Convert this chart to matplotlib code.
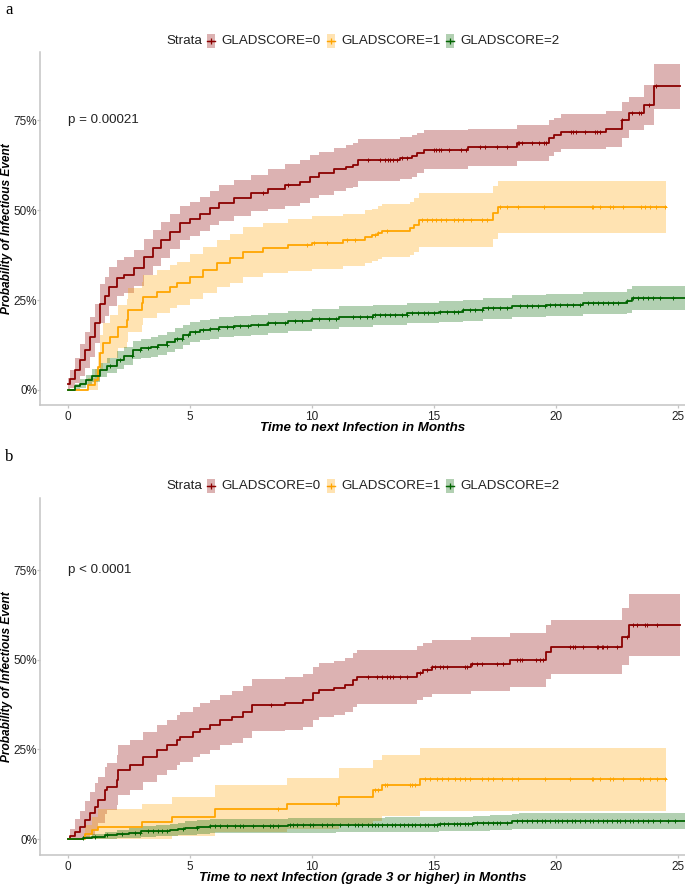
import numpy as np
import matplotlib
matplotlib.use('Agg')
import matplotlib.pyplot as plt
from matplotlib.patches import Rectangle
from matplotlib.lines import Line2D

plt.rcParams['font.family'] = ['Liberation Sans', 'DejaVu Sans']

labels = ['GLADSCORE=0', 'GLADSCORE=1', 'GLADSCORE=2']
line_colors = ['#8B0000', '#FFA500', '#006400']
yticks = [0, 0.25, 0.5, 0.75]
ytick_labels = ['0%', '25%', '50%', '75%']
xticks = [0, 5, 10, 15, 20, 25]

# ---- panel a: any infection (cumulative incidence in %, CI half width in %) ----
a0_t = [0, 0.1, 0.3, 0.5, 0.7, 0.9, 1.1, 1.3, 1.5, 1.7, 2.0, 2.3, 2.7, 3.1, 3.5, 3.8, 4.2, 4.6,
        5.0, 5.4, 5.8, 6.2, 6.8, 7.5, 8.2, 8.9, 9.5, 9.9, 10.3, 10.9, 11.4, 11.7, 11.9, 13.6,
        14.1, 14.3, 14.6, 16.4, 18.4, 19.7, 19.9, 20.2, 22.05, 22.7, 23.0, 23.6, 24.0]
a0_p = [1.8, 3, 5.5, 8.3, 11, 14.8, 18.5, 24, 26, 28.7, 31, 32, 33.8, 37, 39.5, 41.7, 44, 46.3,
        47.5, 49, 50.5, 51.9, 53.3, 54.6, 55.8, 57, 57.9, 59.3, 60.2, 61.3, 62, 62.5, 63.9, 64.4,
        65, 65.9, 66.8, 67.4, 68.5, 69.9, 70.8, 71.8, 72.5, 75, 76.9, 79.2, 84.4]
a0_ci = [1.5, 2.5, 3.5, 4.5, 5, 5.5, 5.5, 5.5, 5.5, 5.5, 5, 5, 5, 5, 5, 5, 4.8, 4.7,
         4.7, 4.7, 4.8, 5, 5, 5, 5.5, 5.8, 6, 6, 6, 6, 6, 6, 5.8, 5.8,
         5.8, 5.6, 5.5, 5.2, 5, 5, 4.8, 4.8, 5, 5, 4.6, 5.5, 6.3]
a0_end = 25.1
a0_cens = [8.0, 9.0, 12.3, 12.8, 13.0, 13.1, 13.2, 13.3, 13.5, 13.7, 13.9, 15.0, 15.1, 15.2,
           15.3, 15.6, 16.1, 16.3, 16.9, 17.1, 17.6, 18.0, 18.45, 18.5, 18.6, 19.0, 19.3, 19.5,
           19.6, 20.6, 20.7, 20.8, 21.2, 21.6, 21.7, 21.8, 22.7, 23.1, 23.4, 23.5, 23.8, 24.1]

a1_t = [0, 0.8, 1.1, 1.24, 1.31, 1.45, 1.72, 2.06, 2.4, 2.47, 3.02, 3.09, 3.63, 4.18, 4.45,
        5.0, 5.55, 6.09, 6.64, 7.18, 8.0, 9.0, 10.0, 11.28, 12.17, 12.45, 12.7, 12.86, 14.0,
        14.2, 14.4, 17.43, 17.64]
a1_p = [0, 1.4, 2.8, 6.5, 10.2, 13, 14.8, 17.6, 19.4, 22.2, 24.1, 25.9, 27.3, 28.7, 29.6,
        31.5, 33.3, 35.2, 36.6, 38.4, 39.4, 40.2, 40.9, 41.7, 42.6, 43.1, 43.7, 44.3, 44.9,
        45.8, 47.2, 49.3, 50.9]
a1_ci = [0, 2, 3, 4, 5, 5.5, 6, 6, 6, 6, 6, 6, 6, 6, 6, 6.2, 6.4, 6.6, 6.8, 7, 7, 7.2, 7.3,
         7.3, 7.3, 7.3, 7.4, 7.4, 7.4, 7.5, 7.5, 7.3, 7.3]
a1_end = 24.5
a1_cens = [9.8, 10.1, 10.6, 11.42, 11.76, 12.58, 12.72, 13.06, 14.5, 14.7, 14.9, 15.1, 15.3,
           15.5, 15.8, 16.0, 16.2, 16.5, 16.95, 17.16, 17.7, 18.0, 18.45, 19.5, 21.46, 21.5,
           21.8, 22.2, 22.35, 22.76, 23.5, 23.65, 23.85, 24.1, 24.47]

a2_t = [0, 0.3, 0.5, 0.75, 1.0, 1.3, 1.6, 2.0, 2.3, 2.66, 3.0, 3.4, 3.7, 4.05, 4.4, 4.7, 5.0,
        5.4, 5.8, 6.2, 6.8, 7.5, 8.2, 9.0, 10.0, 11.1, 12.5, 13.9, 15.2, 16.2, 17.0, 18.2,
        19.6, 21.1, 22.9, 23.1]
a2_p = [0, 1, 1.8, 2.8, 4, 5.6, 6.8, 8.3, 9.5, 11.1, 11.6, 12, 12.6, 13.4, 14.3, 15.3, 16,
        16.7, 17, 17.4, 17.8, 18.1, 18.7, 19.2, 19.8, 20.4, 20.8, 21.3, 21.8, 22.2, 22.7, 23.3,
        23.6, 24.1, 24.8, 25.6]
a2_ci = [0, 0.8, 1.2, 1.5, 1.8, 2.0, 2.2, 2.4, 2.5, 2.6, 2.7, 2.7, 2.8, 2.8, 2.8, 2.8, 2.8,
         2.8, 2.8, 2.8, 2.8, 2.8, 2.8, 2.8, 2.8, 2.8, 2.8, 2.8, 2.9, 2.9, 2.9, 3.0, 3.0, 3.1,
         3.3, 3.4]
a2_end = 25.3
a2_cens = [1.72, 2.13, 2.61, 2.95, 3.29, 3.63, 4.04, 4.45, 4.66, 4.93, 5.2, 5.55, 5.82, 6.16,
           6.5, 6.78, 7.05, 7.39, 7.8, 8.2, 8.5, 8.9, 9.3, 9.6, 10.0, 10.3, 10.7, 11.0, 11.7,
           11.97, 12.24, 12.45, 12.58, 12.79, 12.99, 13.2, 13.4, 13.68, 13.88, 14.09, 14.36,
           14.57, 14.77, 14.98, 15.25, 15.52, 15.8, 16.0, 16.2, 16.48, 16.68, 16.96, 17.23,
           17.43, 17.71, 17.98, 18.53, 18.8, 19.0, 19.28, 19.55, 19.76, 19.96, 20.17, 20.44,
           20.71, 20.99, 21.33, 21.53, 21.74, 21.94, 22.15, 22.35, 22.56, 22.9, 23.17, 23.38,
           23.58, 23.79, 23.99, 24.26, 24.81]

# ---- panel b: grade 3 or higher ----
b0_t = [0, 0.08, 0.3, 0.49, 0.7, 0.9, 1.1, 1.24, 1.52, 1.59, 2.0, 2.06, 2.54, 3.09, 3.63, 4.05,
        4.45, 4.59, 5.14, 5.41, 5.82, 6.23, 6.71, 7.18, 7.53, 8.9, 9.64, 10.05, 10.3, 10.9,
        11.35, 11.7, 11.83, 14.3, 14.56, 14.9, 16.5, 18.1, 19.6, 19.8, 22.7, 23.0]
b0_p = [0, 0.8, 2, 3.4, 5.2, 7.2, 9, 10.9, 13.6, 14.6, 16.4, 19.2, 20.6, 22.9, 24.8, 26.2,
        27.6, 28.5, 29.9, 30.8, 31.8, 33.1, 34.1, 35.5, 37.3, 37.8, 38.7, 40.6, 41.5, 42.1,
        42.9, 44.3, 45.2, 46.2, 47.2, 48, 48.9, 49.9, 52.2, 53.6, 56.4, 59.6]
b0_ci = [0, 2, 3.5, 4.5, 5.5, 6, 6.5, 6.5, 6.5, 6.5, 7, 7, 7, 7, 7, 7, 7, 7, 7, 7, 7, 7, 7.2,
         7.2, 7.3, 7.3, 7.4, 7.5, 7.5, 7.5, 7.5, 7.5, 7.5, 7.5, 7.5, 7.5, 7.5, 7.5, 7.6, 7.6,
         8.0, 8.6]
b0_end = 25.1
b0_cens = [8.3, 12.31, 12.65, 12.86, 13.06, 13.2, 13.33, 13.6, 13.88, 14.43, 14.7, 14.9, 15.04,
           15.25, 15.38, 15.52, 16.27, 16.34, 16.55, 16.75, 16.95, 17.57, 17.84, 18.39, 18.52,
           18.59, 19.2, 19.34, 19.48, 20.57, 20.71, 20.78, 21.12, 21.67, 21.73, 21.87, 21.94,
           22.08, 22.49, 22.9, 23.17, 23.3, 23.65, 23.72, 24.13]

b1_t = [0, 0.7, 1.0, 1.24, 3.02, 4.25, 6.02, 8.96, 11.1, 12.5, 12.86, 14.43]
b1_p = [0, 1.5, 2.5, 3.4, 4.8, 6.2, 8.5, 9.9, 11.8, 13.6, 15.0, 16.6]
b1_ci = [0, 2.5, 3.5, 5, 5, 5.5, 6.5, 7, 8, 8.5, 8.5, 8.7]
b1_end = 24.5
b1_cens = [8.6, 11.0, 12.58, 12.72, 12.99, 13.06, 14.02, 14.08, 14.22, 14.63, 14.84, 15.11,
           15.32, 15.59, 15.86, 16.07, 16.27, 16.48, 16.95, 17.23, 17.43, 17.77, 18.18, 18.46,
           19.55, 20.57, 21.46, 21.53, 21.8, 22.21, 22.35, 22.76, 23.44, 23.58, 23.85, 24.13,
           24.47]

b2_t = [0, 0.6, 1.0, 1.5, 2.0, 2.5, 3.0, 3.6, 4.2, 4.5, 4.8, 5.3, 5.8, 7.0, 9.0, 11.0, 13.0,
        15.2, 16.6, 17.3, 18.2, 18.5]
b2_p = [0, 0.3, 0.6, 1.0, 1.4, 1.8, 2.1, 2.3, 2.5, 2.8, 3.1, 3.4, 3.6, 3.7, 3.8, 3.9, 4.0,
        4.2, 4.4, 4.6, 4.9, 5.1]
b2_ci = [0, 0.5, 0.8, 1.0, 1.2, 1.4, 1.5, 1.6, 1.7, 1.8, 1.9, 2.0, 2.0, 2.0, 2.0, 2.0, 2.0,
         2.0, 2.1, 2.1, 2.2, 2.2]
b2_end = 25.3
b2_cens = [0.6, 1.1, 1.6, 2.2, 2.75, 2.95, 3.29, 3.5, 3.7, 3.84, 4.04, 4.73, 5.27, 5.82, 6.02,
           6.23, 6.5, 6.84, 7.05, 7.19, 7.6, 8.0, 8.28, 8.42, 8.62, 9.1, 9.24, 9.37, 9.64, 9.92,
           10.05, 10.4, 10.6, 10.8, 11.15, 11.49, 11.76, 11.9, 12.04, 12.31, 12.45, 12.58,
           12.72, 12.86, 13.06, 13.27, 13.4, 13.61, 13.75, 13.95, 14.09, 14.22, 14.43, 14.63,
           14.77, 14.98, 15.11, 15.25, 15.39, 15.59, 15.8, 15.93, 16.07, 16.27, 16.41, 16.55,
           16.75, 17.02, 17.23, 17.43, 17.57, 17.71, 17.98, 18.39, 18.6, 18.8, 19.0, 19.21,
           19.42, 19.55, 19.76, 19.96, 20.1, 20.23, 20.44, 20.64, 20.78, 20.99, 21.19, 21.4,
           21.53, 21.74, 21.94, 22.08, 22.28, 22.49, 22.63, 22.83, 23.04, 23.17, 23.38, 23.58,
           23.79, 23.99, 24.26, 24.61, 24.88]

panel_a = [(a0_t, a0_p, a0_ci, a0_end, a0_cens), (a1_t, a1_p, a1_ci, a1_end, a1_cens),
           (a2_t, a2_p, a2_ci, a2_end, a2_cens)]
panel_b = [(b0_t, b0_p, b0_ci, b0_end, b0_cens), (b1_t, b1_p, b1_ci, b1_end, b1_cens),
           (b2_t, b2_p, b2_ci, b2_end, b2_cens)]

W, H = 685, 892
fig = plt.figure(figsize=(W / 100, H / 100), dpi=100)

TXT = '#222222'
SPINE = '#c4c4c4'


def draw_panel(ax, curves, ylim, xlabel, ptext):
    steps = []
    for (t, p, ci, t_end, cens), col in zip(curves, line_colors):
        x = np.append(t, t_end)
        y = np.append(p, p[-1]) / 100
        e = np.append(ci, ci[-1]) / 100
        ax.fill_between(x, np.clip(y - e, 0, None), y + e, step='post',
                        color=col, alpha=0.3, lw=0)
        steps.append((t, x, y, cens, col))
    for t, x, y, cens, col in steps:
        ax.step(x, y, where='post', color=col, lw=1.3)
        idx = np.searchsorted(t, cens, side='right') - 1
        ax.plot(cens, y[idx], '+', color=col, ms=3, mew=0.7, ls='none')
    ax.set_xlim(-1.148, 25.287)
    ax.set_ylim(*ylim)
    ax.set_xticks(xticks)
    ax.set_yticks(yticks)
    ax.set_yticklabels(ytick_labels)
    for s in ['top', 'right']:
        ax.spines[s].set_visible(False)
    for s in ['left', 'bottom']:
        ax.spines[s].set_color(SPINE)
        ax.spines[s].set_linewidth(1.1)
    ax.tick_params(length=2, width=0.9, color=SPINE, labelsize=8.5,
                   labelcolor=TXT, pad=0)
    ax.tick_params(axis='x', pad=2)
    ax.set_xlabel(xlabel, fontsize=9.6, fontweight='bold', style='italic', color='black')
    ax.xaxis.set_label_coords(0.5, -0.047)
    ax.set_ylabel('Probability of Infectious Event', fontsize=8.6, fontweight='bold',
                  style='italic', color='black')
    ax.yaxis.set_label_coords(-0.0412, 0.5)
    ax.text(0, 0.75, ptext, ha='left', va='center', fontsize=9.6, color=TXT)


def draw_legend(y_px):
    yc = 1 - y_px / H
    fig.text(166 / W, yc, 'Strata', ha='left', va='center', fontsize=9.6, color=TXT)
    for x0, col, lab in zip([207, 327, 446], line_colors, labels):
        fig.add_artist(Rectangle((x0 / W, yc - 7 / H), 8 / W, 14 / H,
                                 transform=fig.transFigure, facecolor=col, alpha=0.3, lw=0))
        fig.add_artist(Line2D([x0 / W, (x0 + 8) / W], [yc, yc], transform=fig.transFigure,
                              color=col, lw=1.0))
        fig.add_artist(Line2D([(x0 + 4) / W], [yc], transform=fig.transFigure, color=col,
                              marker='+', ms=4, mew=0.9))
        fig.text((x0 + 14) / W, yc, lab, ha='left', va='center', fontsize=9.6, color=TXT)


ax_a = fig.add_axes([40 / W, 1 - 405 / H, 645 / W, 353 / H])
draw_panel(ax_a, panel_a, (-0.0417, 0.939), 'Time to next Infection in Months', 'p = 0.00021')
draw_legend(41)

ax_b = fig.add_axes([40 / W, 1 - 855 / H, 645 / W, 357 / H])
draw_panel(ax_b, panel_b, (-0.0446, 0.951),
           'Time to next Infection (grade 3 or higher) in Months', 'p < 0.0001')
draw_legend(486)

fig.text(5 / W, 1 - 10 / H, 'a', family='Liberation Serif', fontsize=12, va='center', ha='left')
fig.text(5 / W, 1 - 457 / H, 'b', family='Liberation Serif', fontsize=12, va='center', ha='left')

fig.savefig('out.png', dpi=100)
plt.close(fig)
